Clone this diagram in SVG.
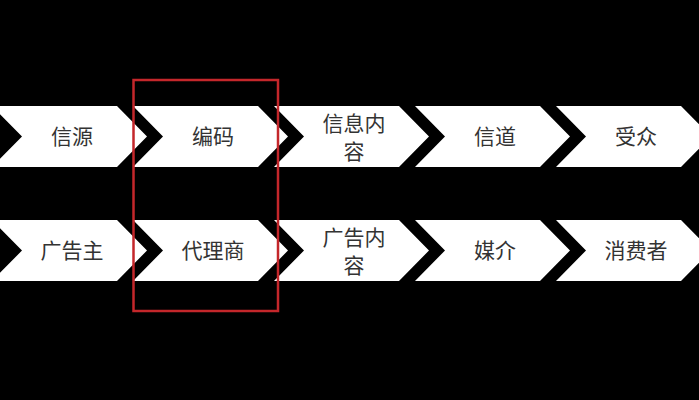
<svg xmlns="http://www.w3.org/2000/svg" width="699" height="400" viewBox="0 0 699 400">
<defs>
<style>
.chev{fill:#ffffff;}
.lbl{font-family:"Noto Sans CJK SC","Noto Sans",sans-serif;font-size:21px;fill:#333333;text-anchor:middle;dominant-baseline:central;}
.hl{fill:none;stroke:#c4272b;stroke-width:2.5;}
</style>
<path id="c1" d="M0,0 H125 L155,30.5 L125,61 H0 L30,30.5 Z"/>
</defs>
<rect x="0" y="0" width="699" height="400" fill="#000000"/>
<g id="connectors"></g>
<g id="n1"><use href="#c1" class="chev" x="-8" y="106"/><text class="lbl" x="72" y="135">信源</text></g>
<g id="n2"><use href="#c1" class="chev" x="133" y="106"/><text class="lbl" x="213" y="135">编码</text></g>
<g id="n3"><use href="#c1" class="chev" x="274" y="106"/><text class="lbl" x="354" y="122">信息内</text><text class="lbl" x="354" y="150">容</text></g>
<g id="n4"><use href="#c1" class="chev" x="415" y="106"/><text class="lbl" x="495" y="135">信道</text></g>
<g id="n5"><use href="#c1" class="chev" x="556" y="106"/><text class="lbl" x="636" y="135">受众</text></g>
<g id="m1"><use href="#c1" class="chev" x="-8" y="220"/><text class="lbl" x="72" y="249">广告主</text></g>
<g id="m2"><use href="#c1" class="chev" x="133" y="220"/><text class="lbl" x="213" y="249">代理商</text></g>
<g id="m3"><use href="#c1" class="chev" x="274" y="220"/><text class="lbl" x="354" y="236">广告内</text><text class="lbl" x="354" y="264">容</text></g>
<g id="m4"><use href="#c1" class="chev" x="415" y="220"/><text class="lbl" x="495" y="249">媒介</text></g>
<g id="m5"><use href="#c1" class="chev" x="556" y="220"/><text class="lbl" x="636" y="249">消费者</text></g>
<g id="highlight"><rect class="hl" x="133.5" y="80" width="144.5" height="231"/></g>
</svg>
